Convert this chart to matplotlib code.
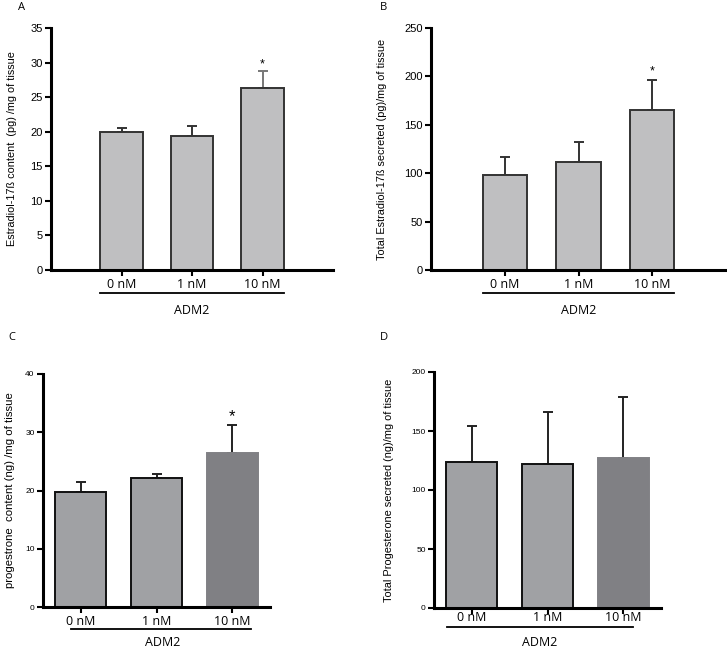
import numpy as np
import matplotlib
matplotlib.use("Agg")
import matplotlib.pyplot as plt
import matplotlib.transforms as mtransforms

doses = ["0 nM", "1 nM", "10 nM"]

# panel A - estradiol content
e2_content = [19.9, 19.4, 26.3]
e2_content_top = [20.5, 20.8, 28.8]
# panel B - estradiol secreted
e2_secreted = [98, 112, 165]
e2_secreted_top = [117, 132, 196]
# panel C - progesterone content
p4_content = [19.8, 22.2, 26.5]
p4_content_top = [21.4, 22.9, 31.3]
# panel D - progesterone secreted
p4_secreted = [123.5, 122, 127.5]
p4_secreted_top = [154, 166, 179]

W, H = 727, 651
fig = plt.figure(figsize=(W / 100, H / 100), dpi=100)
font = "Liberation Sans"


def make_ax(x0, x1, ytop, ybot):
    ax = fig.add_axes([x0 / W, 1 - ybot / H, (x1 - x0) / W, (ybot - ytop) / H])
    ax.px = (x0, x1)
    return ax


def panel(ax, vals, tops, colors, edges, ymax, ystep, ylabel, xlim, width,
          star, tick_fs, line_x, line_y, adm_x, adm_y, ylab_fs, ylab_x, errcol, xpad=2):
    x = np.arange(len(vals))
    err = np.array(tops) - np.array(vals)
    ax.bar(x, vals, width=width, color=colors, edgecolor=edges, linewidth=1.4, zorder=2)
    for i in range(len(vals)):
        ax.errorbar(x[i], vals[i], yerr=[[0], [err[i]]], fmt="none", ecolor=errcol[i],
                    elinewidth=1.4, capsize=3.5, capthick=1.4, zorder=1)
    if star is not None:
        ax.text(x[2], star, "*", ha="center", va="center", fontsize=9, family=font)
    ax.set_xlim(*xlim)
    ax.set_ylim(0, ymax)
    ax.set_yticks(np.arange(0, ymax + 0.01, ystep))
    ax.set_xticks(x)
    ax.set_xticklabels(doses, family="Open Sans", fontsize=9)
    for s in ["top", "right"]:
        ax.spines[s].set_visible(False)
    for s in ["left", "bottom"]:
        ax.spines[s].set_linewidth(2.2)
    ax.tick_params(axis="y", labelsize=tick_fs, width=1.5, length=4, pad=2)
    ax.tick_params(axis="x", width=1.5, length=4, pad=xpad)
    for lab in ax.get_yticklabels():
        lab.set_family(font)
    ax.set_ylabel(ylabel, family=font, fontsize=ylab_fs)
    x0, x1 = ax.px
    ax.yaxis.set_label_coords((ylab_x + 5 - x0) / (x1 - x0), 0.5)
    tr = mtransforms.blended_transform_factory(ax.transData, fig.transFigure)
    ax.plot(line_x, [1 - line_y / H] * 2, color="black", lw=1.3, transform=tr, clip_on=False)
    ax.text(adm_x, 1 - adm_y / H, "ADM2", ha="center", va="center", fontsize=9,
            family="Open Sans", transform=tr)


light = "#bfbfc1"
axA = make_ax(51, 333, 28, 270)
panel(axA, e2_content, e2_content_top, [light] * 3, "#333333", 35, 5,
      "Estradiol-17ß content  (pg) /mg of tissue", (-1, 3), 0.6, 29.8, 8,
      [-0.3, 2.3], 293, 1, 311, 7.8, 12, ["#333333", "#333333", "#777777"])

axB = make_ax(431, 726, 28, 270)
panel(axB, e2_secreted, e2_secreted_top, [light] * 3, "#333333", 250, 50,
      "Total Estradiol-17ß secreted (pg)/mg of tissue", (-1, 3), 0.6, 205, 8,
      [-0.3, 2.3], 293, 1, 311, 7.8, 382, ["#333333"] * 3)

mid, dark = "#a0a1a4", "#808084"
axC = make_ax(43, 270, 374, 607)
panel(axC, p4_content, p4_content_top, [mid, mid, dark], ["#111111", "#111111", dark], 40, 10,
      "progestrone  content (ng) /mg of tissue", (-0.5, 2.5), 0.67, 32.6, 6,
      [-0.13, 2.25], 629, 1.08, 643, 8.2, 10, ["#222222"] * 3)
axC.texts[0].set_fontsize(12)

axD = make_ax(434, 661, 372, 608)
panel(axD, p4_secreted, p4_secreted_top, [mid, mid, dark], ["#111111", "#111111", dark], 200, 50,
      "Total Progesterone secreted (ng)/mg of tissue", (-0.5, 2.5), 0.67, None, 6,
      [-0.33, 2.13], 627, 0.9, 643, 7.9, 389, ["#222222"] * 3, xpad=-2)

for lab, (px, py) in zip("ABCD", [(22, 7), (384, 7), (12, 337), (384, 337)]):
    fig.text(px / W, 1 - py / H, lab, fontsize=8, family="Open Sans", ha="center", va="center")

fig.savefig("out.png", dpi=100, facecolor="white")
